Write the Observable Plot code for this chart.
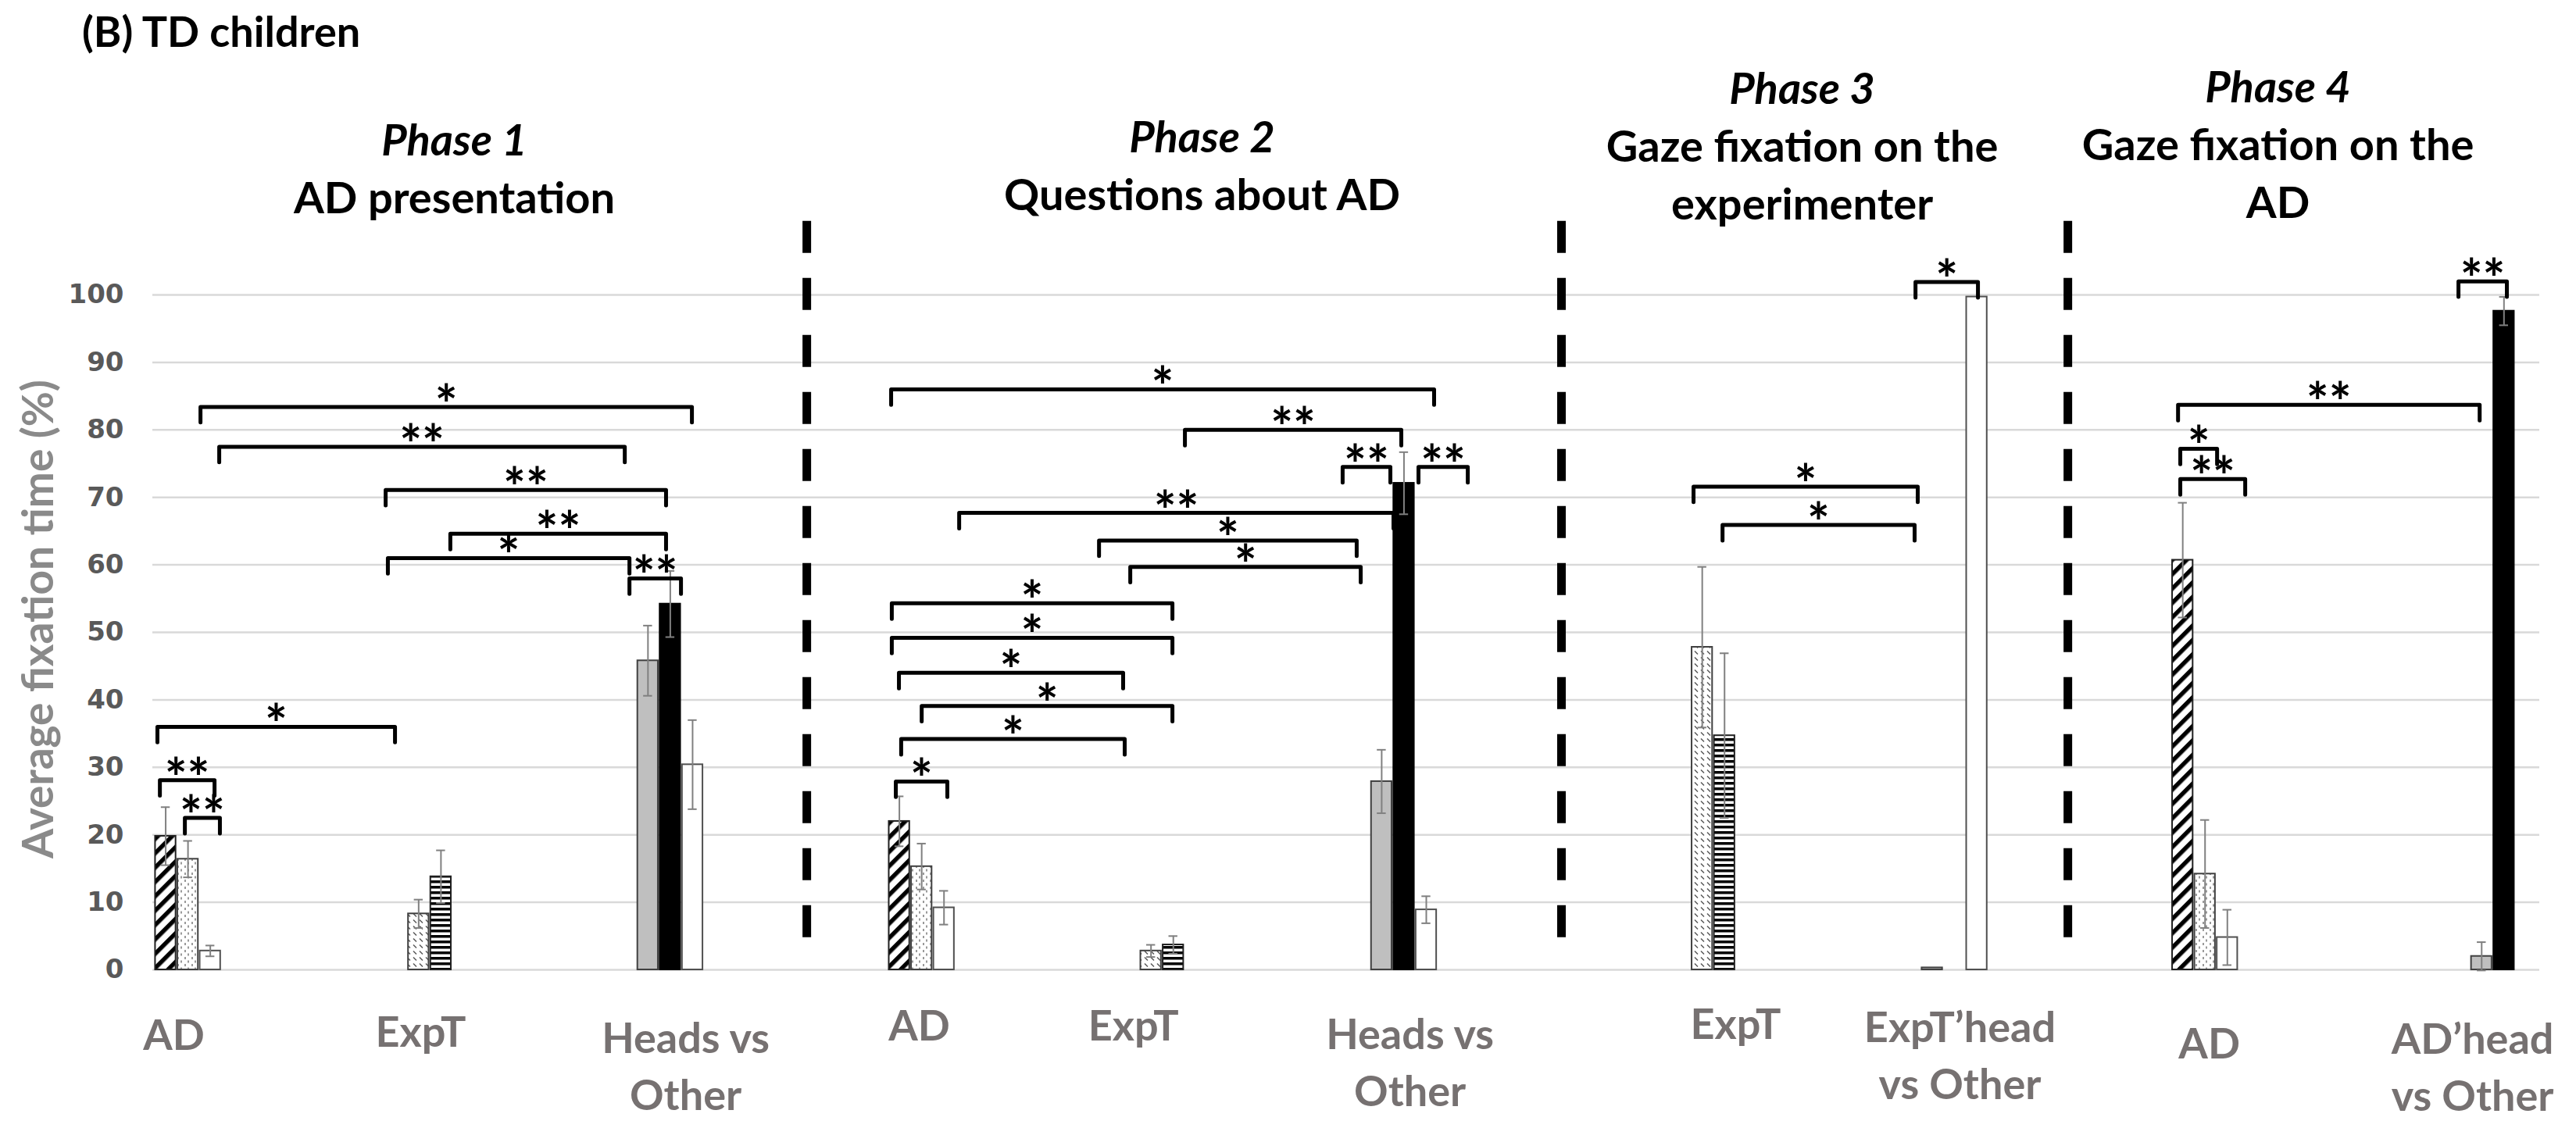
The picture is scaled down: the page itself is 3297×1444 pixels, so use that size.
<!DOCTYPE html>
<html>
<head>
<meta charset="utf-8">
<script src="https://cdn.jsdelivr.net/npm/d3@7"></script>
<script src="https://cdn.jsdelivr.net/npm/@observablehq/plot@0.6"></script>
<style>
  html, body { margin: 0; padding: 0; background: #fff; overflow: hidden; }
  #title { position: absolute; top: 0; left: 105px; height: 80px; line-height: 80px; font-family: Lato, sans-serif; font-weight: bold; font-size: 54px; color: #000; z-index: 2; }
  #chart svg { display: block; }
  g[aria-label="stars"] text { letter-spacing: 8px; }
</style>
</head>
<body>
<svg width="0" height="0" style="position:absolute">
  <defs>
    <pattern id="p-hatch" patternUnits="userSpaceOnUse" width="13" height="13" patternTransform="rotate(45)">
      <rect width="13" height="13" fill="#fff"/>
      <rect x="0" y="0" width="5.5" height="13" fill="#000"/>
    </pattern>
    <pattern id="p-dots" patternUnits="userSpaceOnUse" width="9" height="9">
      <rect width="9" height="9" fill="#fff"/>
      <rect x="2" y="1" width="2" height="3" fill="#9a9a9a"/>
      <rect x="6" y="5.5" width="2" height="3" fill="#9a9a9a"/>
    </pattern>
    <pattern id="p-light" patternUnits="userSpaceOnUse" width="8" height="8">
      <rect width="8" height="8" fill="#fff"/>
      <path d="M1,1.5 L5,5.5" stroke="#555" stroke-width="1.5"/>
    </pattern>
    <pattern id="p-stripes" patternUnits="userSpaceOnUse" width="8" height="7">
      <rect width="8" height="7" fill="#fff"/>
      <rect x="0" y="0" width="8" height="3.5" fill="#000"/>
    </pattern>
  </defs>
</svg>
<div id="title">(B) TD children</div>
<div id="chart"></div>
<script>
// ---------------- data ----------------
const groupLabels = ["AD", "ExpT", "Heads vs\nOther", "AD", "ExpT", "Heads vs\nOther", "ExpT", "ExpT’head\nvs Other", "AD", "AD’head\nvs Other"];
const groupSeries = [
  ["hatch", "dots", "plain"], ["light", "stripes"], ["gray", "black", "white"],
  ["hatch", "dots", "plain"], ["light", "stripes"], ["gray", "black", "white"],
  ["light", "stripes"], ["gray", "black", "white"],
  ["hatch", "dots", "plain"], ["gray", "black", "white"]
];
const meanValues = [
  [19.8, 16.4, 2.8], [8.3, 13.8], [45.8, 54.2, 30.4],
  [22.0, 15.3, 9.2], [2.8, 3.7], [27.9, 72.1, 8.9],
  [47.8, 34.7], [0.3, 0, 99.7],
  [60.7, 14.2, 4.8], [2.0, 97.6, 0]
];
const errorValues = [
  [4.3, 2.7, 0.8], [2.1, 3.9], [5.2, 4.9, 6.6],
  [3.7, 3.4, 2.5], [0.9, 1.3], [4.7, 4.6, 2.0],
  [11.9, 12.2], [0, 0, 0],
  [8.5, 8.0, 4.1], [2.1, 2.1, 0]
];
const phaseTitles = ["Phase 1", "Phase 2", "Phase 3", "Phase 4"];
const phaseSubtitles = ["AD presentation", "Questions about AD", "Gaze fixation on the\nexperimenter", "Gaze fixation on the\nAD"];
const yTicks = [0, 10, 20, 30, 40, 50, 60, 70, 80, 90, 100];
const yTitle = "Average fixation time (%)";
// significance brackets: x1/x2 on the x axis (bar-width units), y in %
const brackets = [
  {x1: 2.14, x2: 24.17, y: 83.4, label: "*"},
  {x1: 2.98, x2: 21.16, y: 77.5, label: "**"},
  {x1: 10.44, x2: 23.01, y: 71.1, label: "**"},
  {x1: 13.34, x2: 23.01, y: 64.6, label: "**"},
  {x1: 10.54, x2: 21.37, y: 61.0, label: "*"},
  {x1: 21.37, x2: 23.68, y: 58.0, label: "**"},
  {x1: 0.21, x2: 10.86, y: 36.0, label: "*"},
  {x1: 0.32, x2: 2.77, y: 28.1, label: "**"},
  {x1: 1.44, x2: 3.01, y: 22.5, label: "**"},
  {x1: 33.10, x2: 57.44, y: 86.0, label: "*"},
  {x1: 46.27, x2: 55.97, y: 80.0, label: "**"},
  {x1: 53.34, x2: 55.48, y: 74.5, label: "**"},
  {x1: 56.74, x2: 58.95, y: 74.5, label: "**"},
  {x1: 36.15, x2: 55.62, y: 67.7, label: "**"},
  {x1: 42.42, x2: 53.97, y: 63.6, label: "*"},
  {x1: 43.82, x2: 54.15, y: 59.7, label: "*"},
  {x1: 33.13, x2: 45.71, y: 54.3, label: "*"},
  {x1: 33.13, x2: 45.71, y: 49.2, label: "*"},
  {x1: 33.45, x2: 43.50, y: 44.0, label: "*"},
  {x1: 34.47, x2: 45.71, y: 39.1, label: "*"},
  {x1: 33.55, x2: 43.57, y: 34.2, label: "*"},
  {x1: 33.31, x2: 35.62, y: 27.9, label: "*"},
  {x1: 69.07, x2: 79.12, y: 71.6, label: "*"},
  {x1: 70.37, x2: 78.98, y: 65.9, label: "*"},
  {x1: 79.02, x2: 81.82, y: 101.9, label: "*"},
  {x1: 90.79, x2: 104.31, y: 83.7, label: "**"},
  {x1: 90.89, x2: 92.54, y: 77.2, label: "*"},
  {x1: 90.89, x2: 93.80, y: 72.7, label: "**"},
  {x1: 103.36, x2: 105.53, y: 102.0, label: "**"}
];

// ---------------- layout (x axis in bar-width units; offsets in px) ----------------
const xDomain = [0, 107];
const groupCenters = [1.58, 12.42, 23.2, 34.47, 45.25, 56.09, 69.96, 80.77, 92.0, 105.4];
const labelCenters = [0.95, 12.01, 23.89, 34.36, 43.96, 56.36, 70.96, 81.01, 92.19, 103.99];
const labelOffsets = [51, 47, 55, 39, 39, 50, 37, 41, 62, 56];
const phaseCenters = [13.52, 47.04, 73.94, 95.27];
const phaseBaselines = [272, 268, 280, 278];
const dividerX = [29.32, 63.15, 85.85];
const dividerSpan = [110.9, 4.75];
const bracketTick = 2.3;
const frameTop = 377, frameBottom = 1241;

const seriesFill = {
  hatch: "url(#p-hatch)", dots: "url(#p-dots)", plain: "#ffffff",
  light: "url(#p-light)", stripes: "url(#p-stripes)",
  gray: "#bfbfbf", black: "#000000", white: "#ffffff"
};
const seriesStroke = {hatch: "#202020", dots: "#404040", plain: "#505050", light: "#404040", stripes: "#202020", gray: "#404040", black: "#000000", white: "#505050"};

const bars = [];
groupSeries.forEach((ser, gi) => {
  ser.forEach((s, bi) => {
    bars.push({
      series: s,
      value: meanValues[gi][bi],
      err: errorValues[gi][bi],
      x: groupCenters[gi] + (bi - (ser.length - 1) / 2)
    });
  });
});

const bracketPts = brackets.flatMap((b, i) => [
  {x: b.x1, y: b.y - bracketTick, k: i},
  {x: b.x1, y: b.y, k: i},
  {x: b.x2, y: b.y, k: i},
  {x: b.x2, y: b.y - bracketTick, k: i}
]);

const headerFont = {fontFamily: "Lato, sans-serif", fontWeight: "bold", fontSize: 56, fill: "#000"};
const labelFont = {fontFamily: "Lato, sans-serif", fontWeight: "bold", fontSize: 54, fill: "#767171"};
const marks = [];

// gridlines
marks.push(Plot.ruleY(yTicks, {stroke: "#d9d9d9", strokeWidth: 2.5}));

// dividers
marks.push(Plot.ruleX(dividerX, {y1: dividerSpan[0], y2: dividerSpan[1], stroke: "#000", strokeWidth: 11, strokeDasharray: "41,32"}));

// bars per series
Object.keys(seriesFill).forEach(s => {
  const d = bars.filter(b => b.series === s && b.value > 0);
  marks.push(Plot.rectY(d, {
    x1: b => b.x - 0.46, x2: b => b.x + 0.46, y: "value",
    fill: seriesFill[s], stroke: seriesStroke[s], strokeWidth: 2
  }));
});

// error bars
const eb = bars.filter(b => b.err > 0);
marks.push(Plot.ruleX(eb, {x: "x", y1: b => b.value - b.err, y2: b => b.value + b.err, stroke: "#808080", strokeWidth: 2}));
marks.push(Plot.ruleY(eb, {y: b => b.value + b.err, x1: b => b.x - 0.2, x2: b => b.x + 0.2, stroke: "#808080", strokeWidth: 2}));
marks.push(Plot.ruleY(eb, {y: b => b.value - b.err, x1: b => b.x - 0.2, x2: b => b.x + 0.2, stroke: "#808080", strokeWidth: 2}));

// brackets
marks.push(Plot.line(bracketPts, {x: "x", y: "y", z: "k", stroke: "#000", strokeWidth: 5, strokeLinejoin: "round"}));
marks.push(Plot.text(brackets, {
  x: b => (b.x1 + b.x2) / 2, y: "y", text: "label", lineAnchor: "bottom", dy: 22,
  fontFamily: "Lato, sans-serif", fontWeight: "bold", fontSize: 68, fill: "#000", ariaLabel: "stars"
}));

// x category labels
groupLabels.forEach((lab, i) => {
  marks.push(Plot.text([lab], {
    x: labelCenters[i], frameAnchor: "bottom", text: d => d,
    lineAnchor: "top", dy: labelOffsets[i], lineHeight: 73 / 54, ...labelFont
  }));
});

// phase headers
const headerLine = 74;
phaseTitles.forEach((t, i) => {
  const n = phaseSubtitles[i].split("\n").length;
  const base = phaseBaselines[i] - frameTop;
  marks.push(Plot.text([phaseSubtitles[i]], {
    x: phaseCenters[i], frameAnchor: "top", text: d => d,
    lineAnchor: "bottom", lineHeight: headerLine / 56, dy: base, ...headerFont
  }));
  marks.push(Plot.text([t], {
    x: phaseCenters[i], frameAnchor: "top", text: d => d,
    lineAnchor: "bottom", dy: base - headerLine * n, fontStyle: "italic", ...headerFont
  }));
});

// y-axis title
marks.push(Plot.text([yTitle], {
  frameAnchor: "left", textAnchor: "middle", text: d => d, rotate: -90, dx: -145, dy: -17,
  fontFamily: "Lato, sans-serif", fontWeight: "bold", fontSize: 55, fill: "#8a8a8a"
}));

const chart = Plot.plot({
  width: 3297,
  height: 1444,
  marginLeft: 195,
  marginRight: 47,
  marginTop: frameTop,
  marginBottom: 1444 - frameBottom,
  x: {domain: xDomain, axis: null},
  y: {domain: [0, 100], ticks: yTicks, tickSize: 0, tickPadding: 37, label: null},
  style: {fontFamily: "'DejaVu Sans', sans-serif", fontSize: "34px", fontWeight: "bold", color: "#595959", background: "#fff"},
  marks
});
document.getElementById("chart").appendChild(chart);
</script>
</body>
</html>
